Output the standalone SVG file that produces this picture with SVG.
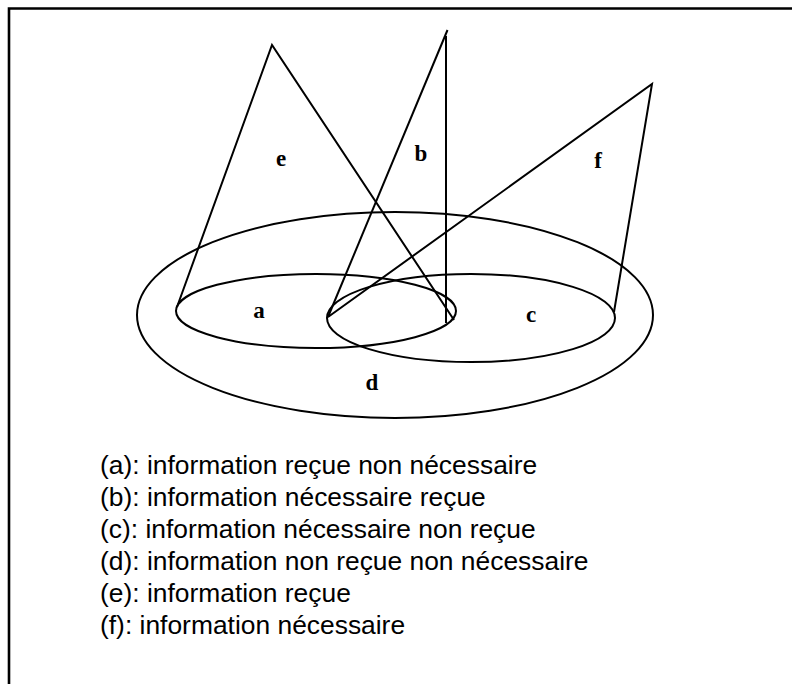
<svg xmlns="http://www.w3.org/2000/svg" width="792" height="684" viewBox="0 0 792 684">
<style>
.ln{fill:none;stroke:#000;stroke-width:2;stroke-linejoin:miter}
.lbl{font-family:"Liberation Serif","Times New Roman",serif;font-weight:bold;font-size:23px;text-anchor:middle;fill:#000}
.lg{font-family:"Liberation Sans",Arial,sans-serif;font-size:26.4px;fill:#000}
</style>
<rect width="792" height="684" fill="#fff"/>
<path d="M9,684 V8.5 H792" fill="none" stroke="#000" stroke-width="2.6"/>
<g id="d"><ellipse class="ln" cx="395" cy="315" rx="258" ry="103"/><text class="lbl" x="372" y="390">d</text></g>
<g id="a"><ellipse class="ln" cx="316" cy="311" rx="140" ry="37"/><text class="lbl" x="259" y="318">a</text></g>
<g id="c"><ellipse class="ln" cx="471" cy="318" rx="144" ry="44"/><text class="lbl" x="531" y="322">c</text></g>
<g id="connectors">
<g id="e"><polyline class="ln" points="177,307 272,45 454,320"/><text class="lbl" x="281" y="166">e</text></g>
<g id="b"><polyline class="ln" points="328,317 447.5,30"/><line class="ln" x1="446" y1="36" x2="446" y2="323"/><text class="lbl" x="421" y="161">b</text></g>
<g id="f"><polyline class="ln" points="328,317 652,84 614,312"/><text class="lbl" x="598" y="168">f</text></g>
</g>
<g id="legend">
<text class="lg" x="100" y="474">(a): information reçue non nécessaire</text>
<text class="lg" x="100" y="506">(b): information nécessaire reçue</text>
<text class="lg" x="100" y="538">(c): information nécessaire non reçue</text>
<text class="lg" x="100" y="570">(d): information non reçue non nécessaire</text>
<text class="lg" x="100" y="602">(e): information reçue</text>
<text class="lg" x="100" y="634">(f): information nécessaire</text>
</g>
</svg>
